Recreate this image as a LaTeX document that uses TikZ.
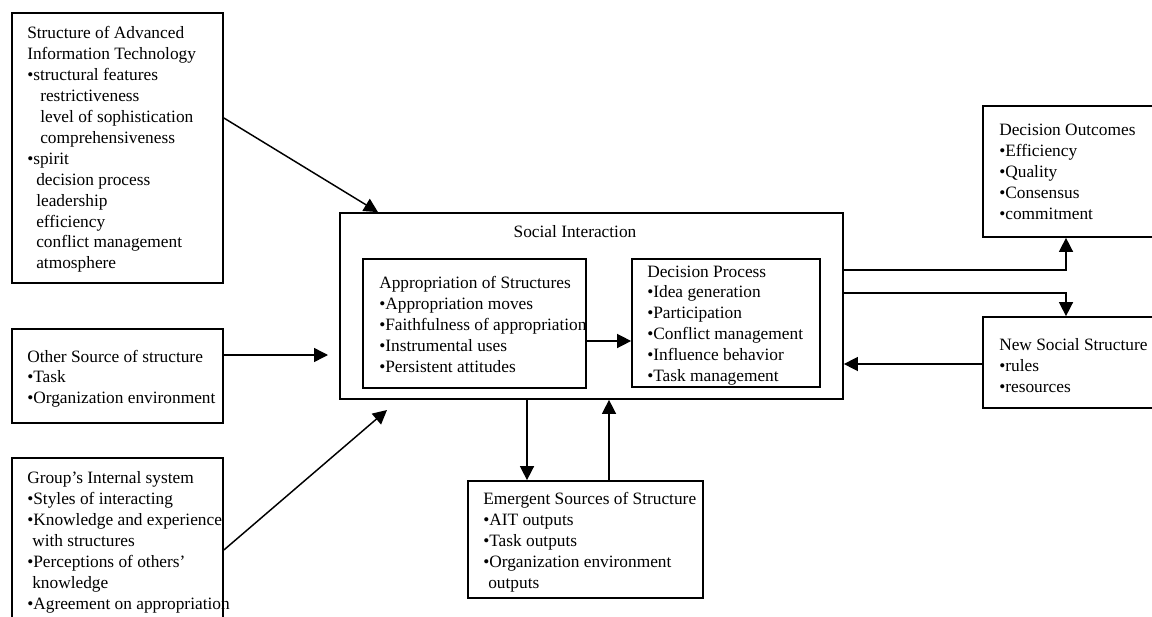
\documentclass[tikz,border=0pt]{standalone}
\usepackage{fontspec}
\setmainfont{Liberation Serif}
\usetikzlibrary{arrows.meta,fit}
\begin{document}
\begin{tikzpicture}[x=0.75pt,y=-0.75pt,
  box/.style={draw, line width=1.3pt, inner sep=0pt},
  txt/.style={anchor=north west, inner sep=0pt, align=left, font=\fontsize{13}{15.7}\selectfont},
  arr/.style={line width=1.1pt, -{Triangle[length=10.5pt,width=10.5pt]}},
  ln/.style={line width=1.1pt}]
\useasboundingbox (0,0) rectangle (1152,617);
\fill[white] (0,0) rectangle (1152,617);
% boxes
\node[box, fit={(12,13) (223,283)}] (A) {};
\node[box, fit={(12,329) (223,423)}] (B) {};
\node[box, fit={(12,458) (223,645)}] (C) {};
\node[box, fit={(340,213) (843,399)}] (SI) {};
\node[box, fit={(363,259) (586,388)}] (AP) {};
\node[box, fit={(632,259) (820,387)}] (DP) {};
\node[box, fit={(983,106) (1165,237)}] (DO) {};
\node[box, fit={(983,317) (1165,408)}] (NS) {};
\node[box, fit={(468,481) (703,598)}] (ES) {};
% texts
\node[txt] (tA) at (27,25) {\rule{0pt}{10pt}Structure of Advanced\\
Information Technology\\
•structural features\\
\hspace*{9.75pt}restrictiveness\\
\hspace*{9.75pt}level of sophistication\\
\hspace*{9.75pt}comprehensiveness\\
•spirit\\
\hspace*{6.75pt}decision process\\
\hspace*{6.75pt}leadership\\
\hspace*{6.75pt}efficiency\\
\hspace*{6.75pt}conflict management\\
\hspace*{6.75pt}atmosphere};
\node[txt] (tB) at (27,348.4) {\rule{0pt}{10pt}Other Source of structure\\
•Task\\
•Organization environment};
\node[txt] (tC) at (27,470) {\rule{0pt}{10pt}Group’s Internal system\\
•Styles of interacting\\
•Knowledge and experience\\
\hspace*{3.75pt}with structures\\
•Perceptions of others’\\
\hspace*{3.75pt}knowledge\\
•Agreement on appropriation};
\node[anchor=base, inner sep=0pt, font=\fontsize{13}{15.7}\selectfont] (tSI) at (575,237.3) {Social Interaction};
\node[txt] (tAP) at (379,275) {\rule{0pt}{10pt}Appropriation of Structures\\
•Appropriation moves\\
•Faithfulness of appropriation\\
•Instrumental uses\\
•Persistent attitudes};
\node[txt] (tDP) at (647,263.4) {\rule{0pt}{10pt}Decision Process\\
•Idea generation\\
•Participation\\
•Conflict management\\
•Influence behavior\\
•Task management};
\node[txt] (tDO) at (999,121.7) {\rule{0pt}{10pt}Decision Outcomes\\
•Efficiency\\
•Quality\\
•Consensus\\
•commitment};
\node[txt] (tNS) at (999,336.7) {\rule{0pt}{10pt}New Social Structure\\
•rules\\
•resources};
\node[txt] (tES) at (483,491) {\rule{0pt}{10pt}Emergent Sources of Structure\\
•AIT outputs\\
•Task outputs\\
•Organization environment\\
\hspace*{3.75pt}outputs};
% helper coordinates
\coordinate (yA) at (0,118);
\coordinate (xA) at (378,0);
\coordinate (bEnd) at (328,355);
\coordinate (cStart) at (0,550);
\coordinate (cEnd) at (387,410);
\coordinate (yAP) at (0,341);
\coordinate (yDO) at (0,270);
\coordinate (yNS) at (0,293);
\coordinate (xR) at (1066,0);
\coordinate (yNSin) at (0,364);
\coordinate (xDown) at (527,0);
\coordinate (xUp) at (609,0);
% connectors
\draw[arr] (A.east |- yA) -- (SI.north -| xA);
\draw[arr] (B.east |- bEnd) -- (bEnd);
\draw[arr] (C.east |- cStart) -- (cEnd);
\draw[arr] (AP.east |- yAP) -- (DP.west |- yAP);
\draw[arr] (SI.east |- yDO) -| (DO.south -| xR);
\draw[arr] (SI.east |- yNS) -| (NS.north -| xR);
\draw[arr] (NS.west |- yNSin) -- (SI.east |- yNSin);
\draw[arr] (SI.south -| xDown) -- (ES.north -| xDown);
\draw[arr] (ES.north -| xUp) -- (SI.south -| xUp);
\end{tikzpicture}
\end{document}
